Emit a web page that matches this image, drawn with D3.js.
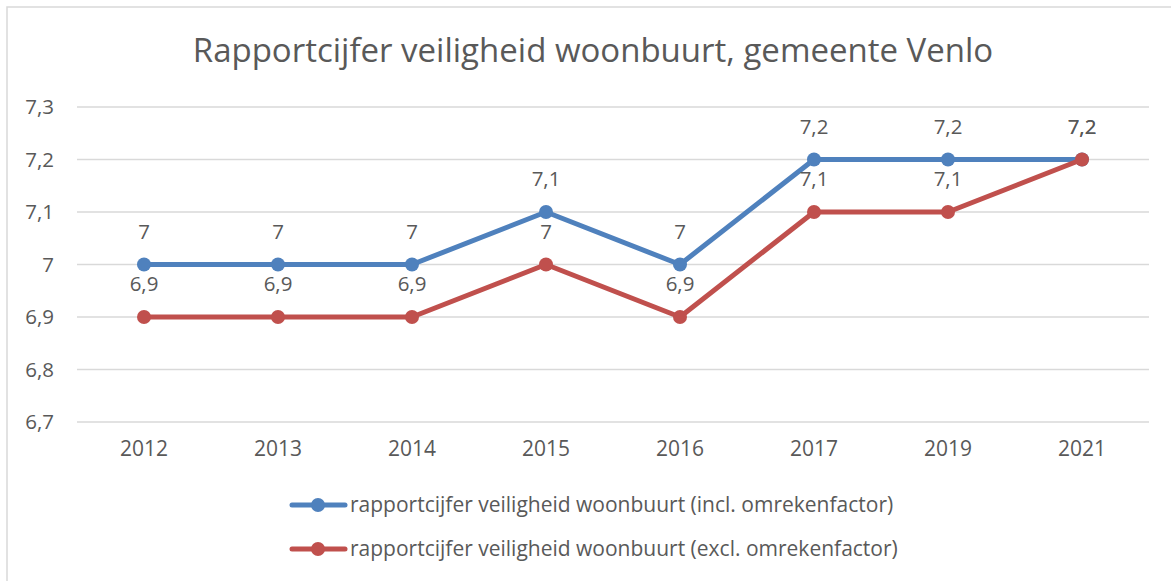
<!DOCTYPE html>
<html><head><meta charset="utf-8">
<script src="https://cdn.jsdelivr.net/npm/d3@7"></script>
<style>body{margin:0;background:#fff}svg{display:block}text{font-family:"Open Sans",Lato,sans-serif;fill:#595959}</style>
</head><body>
<svg id="c" width="1171" height="581"></svg>
<script>
const categories = ["2012","2013","2014","2015","2016","2017","2019","2021"];
const inclValues = [7, 7, 7, 7.1, 7, 7.2, 7.2, 7.2];
const exclValues = [6.9, 6.9, 6.9, 7, 6.9, 7.1, 7.1, 7.2];
const yTicks = [6.7, 6.8, 6.9, 7, 7.1, 7.2, 7.3];
const seriesNames = ["rapportcijfer veiligheid woonbuurt (incl. omrekenfactor)", "rapportcijfer veiligheid woonbuurt (excl. omrekenfactor)"];
const colors = ["#4f81bd", "#c0504d"];
const title = "Rapportcijfer veiligheid woonbuurt, gemeente Venlo";

const FONT = '"Open Sans", Lato, sans-serif';
const svg = d3.select("#c");
const fmt = v => String(v).replace(".", ",");

svg.append("rect").attr("x",7).attr("y",7).attr("width",1180).attr("height",600)
  .attr("fill","#fff").attr("stroke","#d9d9d9").attr("stroke-width",1.5);

svg.append("text").attr("x",593).attr("y",62).attr("text-anchor","middle")
  .style("font-size","33px").text(title);

const x = d3.scaleBand().domain(categories).range([77,1149]);
const y = d3.scaleLinear().domain([6.7,7.3]).range([422,107]);

svg.append("g").selectAll("line").data(yTicks).join("line")
  .attr("x1",77).attr("x2",1149).attr("y1",d=>y(d)).attr("y2",d=>y(d))
  .attr("stroke","#d9d9d9").attr("stroke-width",1.5);

const ya = svg.append("g").attr("transform","translate(54,0)")
  .call(d3.axisLeft(y).tickValues(yTicks).tickFormat(fmt).tickSize(0).tickPadding(0));
ya.select(".domain").remove();
ya.selectAll("text").style("font-size","20.5px").attr("fill","#595959").attr("font-family",FONT);

const xa = svg.append("g").attr("transform","translate(0,441)")
  .call(d3.axisBottom(x).tickSize(0).tickPadding(0));
xa.select(".domain").remove();
xa.selectAll("text").style("font-size","21px").attr("fill","#595959").attr("font-family",FONT).attr("dy","0.71em");

const cx = d => x(d) + x.bandwidth()/2;
const series = [inclValues, exclValues];
const line = d3.line().x((d,i)=>cx(categories[i])).y(d=>y(d));

series.forEach((vals, s) => {
  const g = svg.append("g");
  g.append("path").datum(vals).attr("d", line).attr("fill","none")
    .attr("stroke", colors[s]).attr("stroke-width",5).attr("stroke-linejoin","round");
  g.selectAll("circle").data(vals).join("circle")
    .attr("cx",(d,i)=>cx(categories[i])).attr("cy",d=>y(d)).attr("r",7).attr("fill",colors[s]);
});
series.forEach((vals, s) => {
  svg.append("g").selectAll("text").data(vals).join("text")
    .attr("x",(d,i)=>cx(categories[i])).attr("y",d=>y(d)-26)
    .attr("text-anchor","middle").style("font-size","20.5px").attr("fill","#404040")
    .text(d=>fmt(d));
});

seriesNames.forEach((name, s) => {
  const ly = 505 + s*44;
  const g = svg.append("g");
  g.append("line").attr("x1",292).attr("x2",345).attr("y1",ly).attr("y2",ly)
    .attr("stroke",colors[s]).attr("stroke-width",5).attr("stroke-linecap","round");
  g.append("circle").attr("cx",318).attr("cy",ly).attr("r",7).attr("fill",colors[s]);
  g.append("text").attr("x",350).attr("y",ly).attr("dy","0.35em").style("font-size","21px").text(name);
});
</script>
</body></html>
